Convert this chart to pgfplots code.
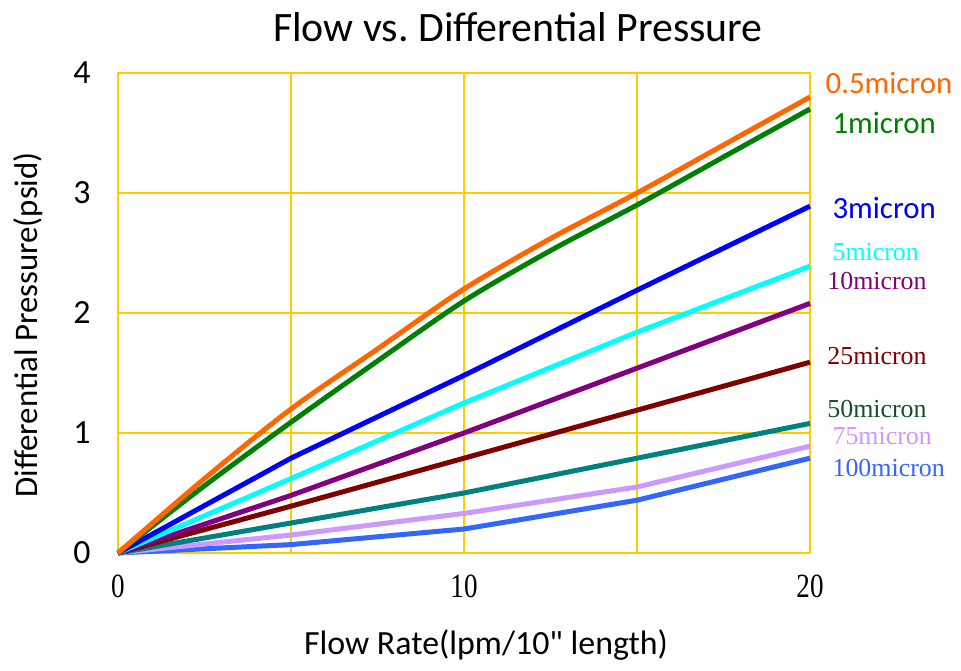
\documentclass[border=0pt]{standalone}
\usepackage{pgfplots}
\pgfplotsset{compat=1.18}
\usepackage{fontspec}
\setmainfont{Carlito}
\newfontfamily\rawfont{Carlito}[Ligatures=TeXOff]
\newfontfamily\serifnum{Liberation Serif}
\definecolor{gridgold}{RGB}{255,204,0}
\definecolor{c05}{RGB}{255,102,0}
\definecolor{c1}{RGB}{0,128,0}
\definecolor{c3}{RGB}{0,0,255}
\definecolor{c5}{RGB}{0,255,255}
\definecolor{c10}{RGB}{128,0,128}
\definecolor{c25}{RGB}{128,0,0}
\definecolor{c50}{RGB}{0,128,128}
\definecolor{c50t}{RGB}{20,80,40}
\definecolor{c75}{RGB}{204,153,255}
\definecolor{c100}{RGB}{51,102,255}
\begin{document}
\begin{tikzpicture}
\begin{axis}[
  scale only axis, width=692bp, height=480bp,
  at={(0,0)}, anchor=south west,
  xmin=0, xmax=20, ymin=0, ymax=4,
  xtick={0,10,20}, minor xtick={5,15},
  ytick={0,1,2,3,4},
  grid=both,
  major grid style={gridgold, line width=2bp},
  minor grid style={gridgold, line width=2bp},
  axis line style={gridgold, line width=2bp},
  major tick length=0pt, minor tick length=0pt,
  /pgf/number format/assume math mode=true,
  xticklabel style={font=\fontsize{34}{34}\selectfont\serifnum, anchor=north, yshift=-18bp},
  xticklabel={\scalebox{0.8}[1]{\pgfmathprintnumber{\tick}}},
  yticklabel style={font=\fontsize{34}{34}\selectfont, anchor=east, xshift=-24bp},
  clip=false,
  axis on top=false,
]
\addplot[c100, line width=5bp] coordinates {(0,0) (5,0.07) (10,0.2) (15,0.44) (20,0.79)};
\addplot[c75, line width=5bp] coordinates {(0,0) (5,0.15) (10,0.33) (15,0.55) (20,0.89)};
\addplot[c50, line width=5bp] coordinates {(0,0) (5,0.25) (10,0.5) (15,0.79) (20,1.08)};
\addplot[c25, line width=5bp] coordinates {(0,0) (5,0.39) (10,0.79) (15,1.19) (20,1.59)};
\addplot[c10, line width=5bp] coordinates {(0,0) (5,0.48) (10,1.0) (15,1.54) (20,2.08)};
\addplot[c5, line width=5bp] coordinates {(0,0) (5,0.62) (10,1.25) (15,1.84) (20,2.39)};
\addplot[c3, line width=5bp] coordinates {(0,0) (5,0.79) (10,1.48) (15,2.19) (20,2.89)};
\addplot[c1, line width=5bp, smooth, tension=0.5] coordinates {(0,0) (2.5,0.56) (5,1.09) (7.5,1.6) (10,2.1) (12.5,2.52) (15,2.9) (17.5,3.3) (20,3.7)};
\addplot[c05, line width=5bp, smooth, tension=0.5] coordinates {(0,0) (2.5,0.62) (5,1.2) (7.5,1.7) (10,2.2) (12.5,2.62) (15,3.0) (17.5,3.4) (20,3.8)};
\node[anchor=west, text=c05, font=\fontsize{31}{31}\selectfont] at (axis cs:20.35,3.92) {0.5micron};
\node[anchor=west, text=c1, font=\fontsize{31}{31}\selectfont] at (axis cs:20.55,3.58) {1micron};
\node[anchor=west, text=c3, font=\fontsize{31}{31}\selectfont] at (axis cs:20.55,2.875) {3micron};
\node[anchor=west, text=c5, font=\fontsize{26}{26}\selectfont\serifnum] at (axis cs:20.55,2.51) {5micron};
\node[anchor=west, text=c10, font=\fontsize{26}{26}\selectfont\serifnum] at (axis cs:20.4,2.27) {10micron};
\node[anchor=west, text=c25, font=\fontsize{26}{26}\selectfont\serifnum] at (axis cs:20.4,1.64) {25micron};
\node[anchor=west, text=c50t, font=\fontsize{26}{26}\selectfont\serifnum] at (axis cs:20.4,1.2) {50micron};
\node[anchor=west, text=c75, font=\fontsize{26}{26}\selectfont\serifnum] at (axis cs:20.55,0.975) {75micron};
\node[anchor=west, text=c100, font=\fontsize{26}{26}\selectfont\serifnum] at (axis cs:20.55,0.71) {100micron};
\end{axis}
\node[font=\fontsize{42}{42}\selectfont] at (400bp,526bp) {Flow vs.\ Differential Pressure};
\node[font=\fontsize{33}{33}\selectfont, rotate=90] at (-90bp,228bp) {Differential Pressure(psid)};
\node[font=\fontsize{34}{34}\selectfont] at (368bp,-92bp) {Flow Rate(lpm/10{\rawfont"} length)};
\pgfresetboundingbox
\path (-118bp,-118bp) rectangle (843bp,553bp);
\end{tikzpicture}
\end{document}
